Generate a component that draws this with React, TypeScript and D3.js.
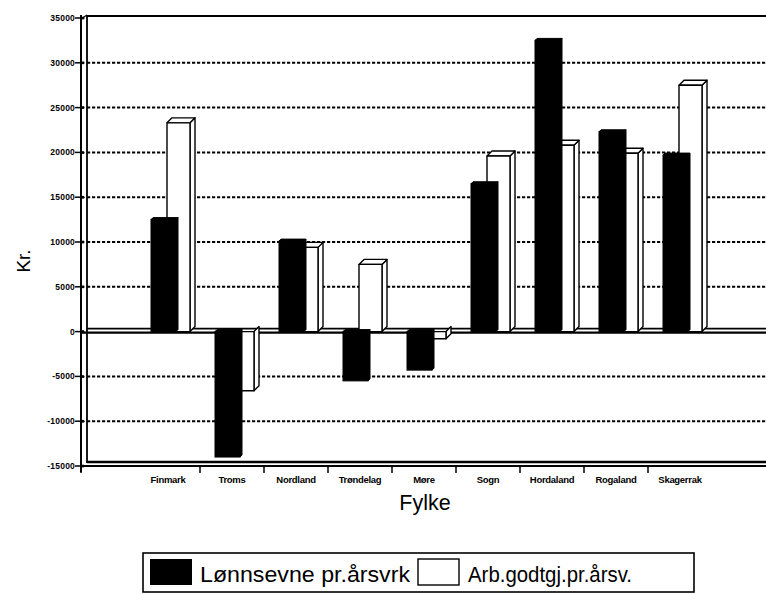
import React from "react";
import * as d3 from "d3";

const categories = ["Finmark", "Troms", "Nordland", "Trøndelag", "Møre", "Sogn", "Hordaland", "Rogaland", "Skagerrak"];
const lonnsevne = [12500, -14000, 10100, -5500, -4300, 16500, 32500, 22300, 19700];
const arbGodtgj = [23300, -6600, 9400, 7500, -800, 19600, 20800, 19900, 27500];
const yTicks = [35000, 30000, 25000, 20000, 15000, 10000, 5000, 0, -5000, -10000, -15000];
const seriesNames = ["Lønnsevne pr.årsvrk", "Arb.godtgj.pr.årsv."];

const W = 766;
const H = 594;
const wallX = 87;
const axisX = 81;
const yScale = d3.scaleLinear().domain([-15000, 35000]).range([466, 18]);
const xScale = d3.scaleBand<string>().domain(categories).range([136, 712]).paddingInner(0).paddingOuter(0);

const font = "'Liberation Sans', Arial, sans-serif";

function box(x: number, w: number, v: number, d: number) {
  const y0 = yScale(0);
  const yv = yScale(v);
  const top = Math.min(y0, yv);
  const bot = Math.max(y0, yv);
  return {
    front: { x, y: top, w, h: bot - top },
    side: `${x + w},${top} ${x + w + d},${top - d} ${x + w + d},${bot - d} ${x + w},${bot}`,
    topFace: `${x},${top} ${x + d},${top - d} ${x + w + d},${top - d} ${x + w},${top}`,
  };
}

export default function App() {
  const y0 = yScale(0);
  const bw = xScale.bandwidth();
  return (
    <svg width={W} height={H} style={{ position: "absolute", left: 0, top: 0, background: "#fff" }} fontFamily={font}>
      {/* grid lines */}
      {yTicks.filter((t) => t !== 0 && t !== 35000 && t !== -15000).map((t) => (
        <line key={t} x1={wallX} x2={W} y1={yScale(t)} y2={yScale(t)} stroke="#000" strokeWidth={2} strokeDasharray="3.2,1.8" />
      ))}
      {/* top border */}
      <line x1={wallX} x2={W} y1={yScale(35000) - 2} y2={yScale(35000) - 2} stroke="#000" strokeWidth={2} />
      {/* left wall */}
      <line x1={axisX} x2={axisX} y1={yScale(35000) - 3} y2={yScale(-15000) + 6} stroke="#000" strokeWidth={2} />
      <line x1={wallX} x2={wallX} y1={yScale(35000) - 3} y2={yScale(-15000) - 3} stroke="#000" strokeWidth={1.8} />
      <line x1={axisX} x2={wallX} y1={yScale(35000) + 1} y2={yScale(35000) - 3} stroke="#000" strokeWidth={1.2} />
      {/* bottom floor */}
      <line x1={wallX} x2={W} y1={yScale(-15000) - 4} y2={yScale(-15000) - 4} stroke="#000" strokeWidth={2.4} />
      <line x1={axisX} x2={W} y1={yScale(-15000)} y2={yScale(-15000)} stroke="#000" strokeWidth={1.8} />
      {/* zero floor */}
      <line x1={wallX} x2={W} y1={y0 - 3} y2={y0 - 3} stroke="#000" strokeWidth={1.6} />
      <line x1={axisX} x2={W} y1={y0 + 1} y2={y0 + 1} stroke="#000" strokeWidth={2.4} />
      {/* y ticks */}
      {yTicks.map((t) => (
        <g key={t}>
          <line x1={axisX - 6} x2={axisX + 2} y1={yScale(t)} y2={yScale(t)} stroke="#000" strokeWidth={1.5} />
          <circle cx={axisX + 2} cy={yScale(t)} r={1.5} fill="#000" />
          <text x={axisX - 6} y={yScale(t) + 3} textAnchor="end" fontSize={8.5} fontWeight="bold" letterSpacing={0.2}>
            {t}
          </text>
        </g>
      ))}
      {/* x ticks */}
      {categories.slice(1).map((c) => (
        <line key={c} x1={xScale(c)!} x2={xScale(c)!} y1={yScale(-15000)} y2={yScale(-15000) + 7} stroke="#000" strokeWidth={1.5} />
      ))}
      <line x1={axisX} x2={axisX} y1={yScale(-15000)} y2={yScale(-15000) + 7} stroke="#000" strokeWidth={1.5} />
      {/* bars: white behind */}
      {categories.map((c, i) => {
        const b = box(xScale(c)! + 31, 23, arbGodtgj[i], 5);
        return (
          <g key={"w" + c} stroke="#000" strokeWidth={1.4} fill="#fff" strokeLinejoin="round">
            <polygon points={b.side} />
            {arbGodtgj[i] > 0 && <polygon points={b.topFace} />}
            <rect x={b.front.x} y={b.front.y} width={b.front.w} height={b.front.h} />
          </g>
        );
      })}
      {categories.map((c, i) => {
        const b = box(xScale(c)! + 15, 25, lonnsevne[i], 2);
        return (
          <g key={"b" + c} stroke="#000" strokeWidth={1} fill="#000">
            <polygon points={b.side} />
            <polygon points={b.topFace} />
            <rect x={b.front.x} y={b.front.y} width={b.front.w} height={b.front.h} />
          </g>
        );
      })}
      {/* category labels */}
      {categories.map((c) => (
        <text key={"l" + c} x={xScale(c)! + bw / 2} y={483} textAnchor="middle" fontSize={9.5} fontWeight="bold" letterSpacing={-0.3}>
          {c}
        </text>
      ))}
      {/* axis titles */}
      <text x={425} y={510} textAnchor="middle" fontSize={21.5}>Fylke</text>
      <text transform={`translate(30,261) rotate(-90)`} textAnchor="middle" fontSize={19}>Kr.</text>
      {/* legend */}
      <rect x={143} y={553} width={551} height={39} fill="#fff" stroke="#000" strokeWidth={1.6} />
      <rect x={150} y={559} width={42} height={26} fill="#000" />
      <text x={200} y={582} fontSize={22} textLength={210} lengthAdjust="spacingAndGlyphs">{seriesNames[0]}</text>
      <rect x={418} y={559} width={41} height={26} fill="#fff" stroke="#000" strokeWidth={1.4} />
      <text x={468} y={582} fontSize={22} textLength={164} lengthAdjust="spacingAndGlyphs">{seriesNames[1]}</text>
    </svg>
  );
}
